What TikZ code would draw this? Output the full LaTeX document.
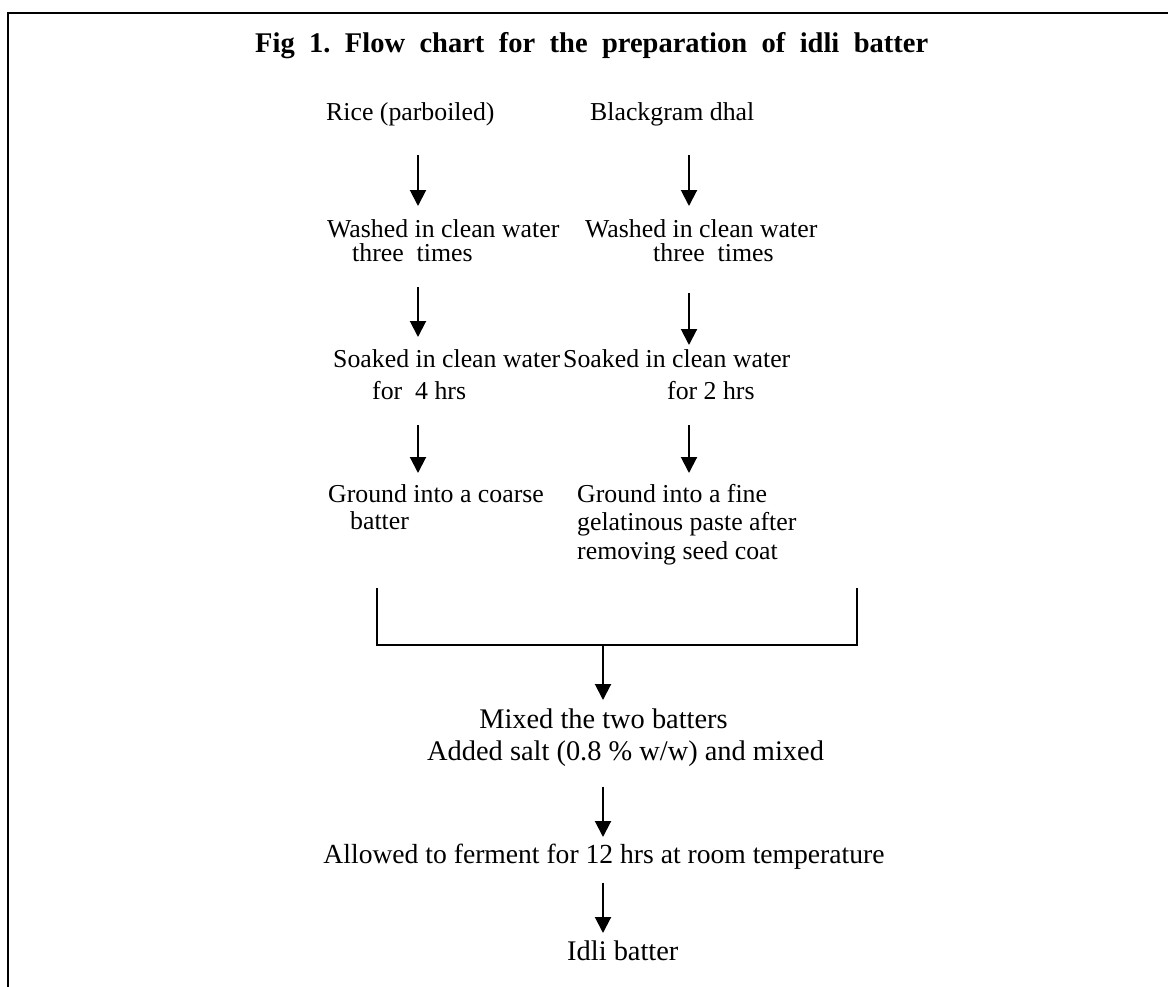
\documentclass[tikz,border=0pt]{standalone}
\usepackage{fontspec}
\setmainfont{Liberation Serif}
\usetikzlibrary{arrows.meta}
\tikzset{
  txt/.style={anchor=base west, inner sep=0pt, font=\fontsize{25.8}{30}\selectfont},
  txtb/.style={anchor=base west, inner sep=0pt, font=\fontsize{28.4}{32}\selectfont},
  ttl/.style={anchor=base west, inner sep=0pt, font=\fontsize{28.5}{32}\selectfont\bfseries},
  flow/.style={line width=2pt, -{Triangle[width=16pt,length=16pt]}},
  brk/.style={line width=1.3pt},
  frame/.style={line width=2pt}
}
\begin{document}
\frenchspacing
\begin{tikzpicture}[x=1pt,y=-1pt]
\useasboundingbox (0,0) rectangle (1168,986);
\draw[frame] (1170,13) -- (8,13) -- (8,990);
\node[ttl] (title) at (255,52) {\makebox[673pt][s]{Fig 1. Flow chart for the preparation of idli batter}};
% left column
\node[txt] (rice) at (326,120) {Rice (parboiled)};
\node[txt] (w1a) at (327,237) {Washed in clean water};
\node[txt] (w1b) at (352,261) {three\ \ times};
\node[txt] (s1a) at (333,367) {Soaked in clean water};
\node[txt] (s1b) at (372,399) {for\ \ 4 hrs};
\node[txt] (g1a) at (328,502) {Ground into a coarse};
\node[txt] (g1b) at (350,529) {batter};
% right column
\node[txt] (black) at (590,120) {Blackgram dhal};
\node[txt] (w2a) at (585,237) {Washed in clean water};
\node[txt] (w2b) at (653,261) {three\ \ times};
\node[txt] (s2a) at (563,367) {Soaked in clean water};
\node[txt] (s2b) at (667,399) {for 2 hrs};
\node[txt] (g2a) at (577,502) {Ground into a fine};
\node[txt] (g2b) at (577,530) {gelatinous paste after};
\node[txt] (g2c) at (577,559) {removing seed coat};
% bottom
\node[txtb, anchor=base] (mix1) at (603.5,728) {Mixed the two batters};
\node[txtb] (mix2) at (427,760) {Added salt (0.8 \% w/w) and mixed};
\node[txtb, anchor=base, font=\fontsize{27.6}{32}\selectfont] (ferm) at (604,863) {Allowed to ferment for 12 hrs at room temperature};
\node[txtb] (idli) at (567,960) {Idli batter};
% arrow end points
\coordinate (a1Ls) at (418,155); \coordinate (a1Le) at (418,206);
\coordinate (a1Rs) at (689,155); \coordinate (a1Re) at (689,206);
\coordinate (a2Ls) at (418,287); \coordinate (a2Le) at (418,337);
\coordinate (a2Rs) at (689,293); \coordinate (a2Re) at (689,345);
\coordinate (a3Ls) at (418,425); \coordinate (a3Le) at (418,473);
\coordinate (a3Rs) at (689,425); \coordinate (a3Re) at (689,473);
\coordinate (bL) at (377,588); \coordinate (bLb) at (377,645);
\coordinate (bR) at (857,588); \coordinate (bRb) at (857,645);
\coordinate (bM) at (603,645); \coordinate (a4e) at (603,700);
\coordinate (a5s) at (603,787); \coordinate (a5e) at (603,837);
\coordinate (a6s) at (603,883); \coordinate (a6e) at (603,933);
\draw[flow] (a1Ls) -- (a1Le);
\draw[flow] (a1Rs) -- (a1Re);
\draw[flow] (a2Ls) -- (a2Le);
\draw[flow] (a2Rs) -- (a2Re);
\draw[flow] (a3Ls) -- (a3Le);
\draw[flow] (a3Rs) -- (a3Re);
\draw[brk] (bL) -- (bLb) -- (bRb) -- (bR);
\draw[flow] (bM) -- (a4e);
\draw[flow] (a5s) -- (a5e);
\draw[flow] (a6s) -- (a6e);
\end{tikzpicture}
\end{document}
